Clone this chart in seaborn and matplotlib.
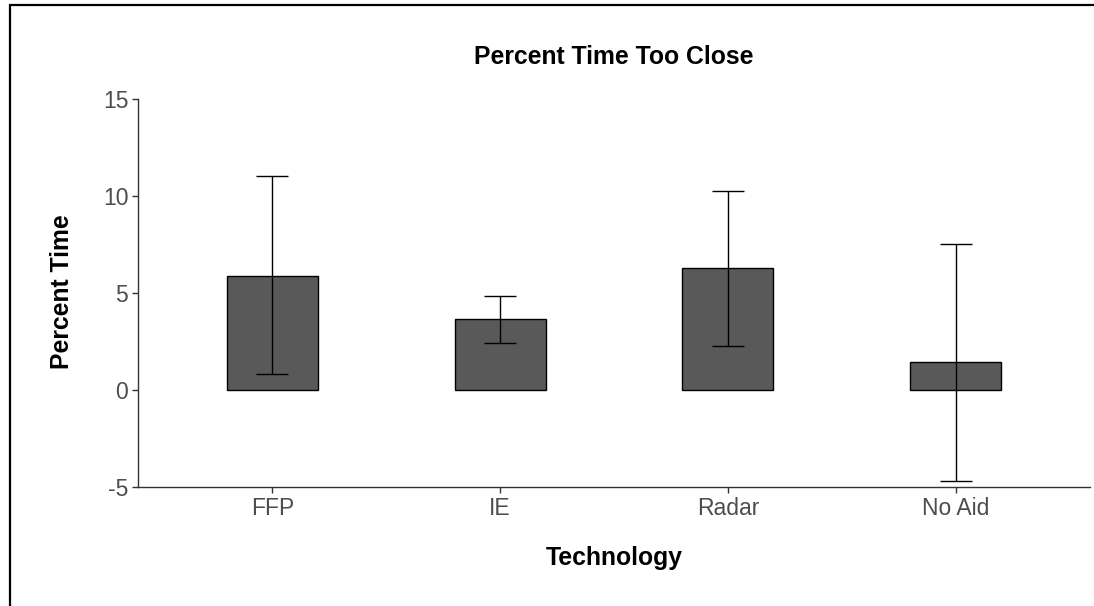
import numpy as np
import pandas as pd
import matplotlib
matplotlib.use("Agg")
import matplotlib.pyplot as plt
import seaborn as sns
from matplotlib.patches import Rectangle

# Data
technology = ["FFP", "IE", "Radar", "No Aid"]
percent_time = [5.88, 3.66, 6.29, 1.43]
err_low = [0.82, 2.42, 2.27, -4.67]
err_high = [11.03, 4.85, 10.26, 7.53]

df = pd.DataFrame({"Technology": technology, "Percent Time": percent_time})

sns.set_style("white")
plt.rcParams['font.family'] = ['Liberation Sans', 'DejaVu Sans']
plt.rcParams['axes.unicode_minus'] = False

fig = plt.figure(figsize=(10.94, 6.06), dpi=100)
ax = fig.add_axes([138 / 1094, 1 - 487 / 606, (1090 - 138) / 1094, (487 - 99) / 606])

sns.barplot(data=df, x="Technology", y="Percent Time", order=technology,
            color="#595959", edgecolor="black", linewidth=1.0, width=0.4,
            saturation=1, errorbar=None, ax=ax)

means = np.array(percent_time)
yerr = np.vstack([means - np.array(err_low), np.array(err_high) - means])
ax.errorbar(np.arange(len(technology)), means, yerr=yerr, fmt="none",
            ecolor="black", elinewidth=1.0, capsize=11.5, capthick=1.0)

ax.set_ylim(-5, 15)
ax.set_xlim(-0.59, len(technology) - 1 + 0.59)
ax.set_yticks([-5, 0, 5, 10, 15])
ax.set_xlabel("")
ax.set_ylabel("")

for side in ["top", "right"]:
    ax.spines[side].set_visible(False)
for side in ["left", "bottom"]:
    ax.spines[side].set_color("#333333")
    ax.spines[side].set_linewidth(1.0)

ax.tick_params(axis="both", which="both", direction="out", length=4, width=1.0,
               color="#333333", labelcolor="#4D4D4D", labelsize=16.5, pad=3,
               left=True, bottom=True)

fig.text(614 / 1094, 1 - 57 / 606, "Percent Time Too Close", ha="center", va="center",
         fontsize=17.8, fontweight="bold", color="black")
fig.text(614 / 1094, 1 - 558 / 606, "Technology", ha="center", va="center",
         fontsize=17.8, fontweight="bold", color="black")
fig.text(62 / 1094, 1 - 292 / 606, "Percent Time", ha="center", va="center",
         rotation=90, fontsize=17.8, fontweight="bold", color="black")

# outer frame, clipped at right and bottom like the reference
fig.patches.append(Rectangle((10 / 1094, -0.2), 1.5, 1 - 5 / 606 + 0.2,
                             transform=fig.transFigure, fill=False,
                             edgecolor="black", linewidth=1.6, zorder=10))

fig.savefig("out.png", dpi=100)
plt.close(fig)
